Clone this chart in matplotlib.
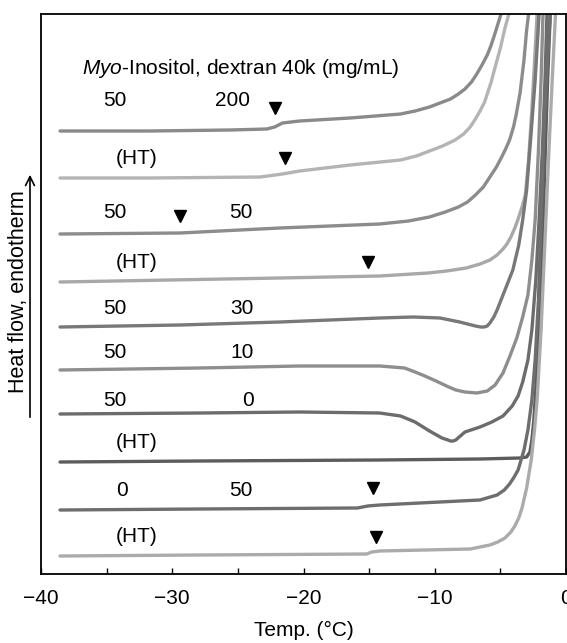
import matplotlib
matplotlib.use('Agg')
import matplotlib.pyplot as plt

plt.rcParams['font.family'] = ['Liberation Sans', 'DejaVu Sans']
plt.rcParams['mathtext.fontset'] = 'custom'
plt.rcParams['mathtext.rm'] = 'Liberation Sans'
plt.rcParams['mathtext.it'] = 'Liberation Sans:italic'

## DSC traces (temperature in degC, heat flow in arbitrary units, already offset)

# 50 / 200
t_1 = [-38.55, -31.7, -25.6, -22.8, -22.2, -21.6, -20.3, -16.45, -12.6, -11.5, -10.4, -9.6, -8.8, -8.2, -7.7, -7.2, -6.8, -6.4, -6.0, -5.7, -5.4, -4.95, -4.7]
y_1 = [443, 443, 444, 445, 447, 451, 453, 456, 460, 463, 467, 471, 475, 480, 485, 492, 500, 509, 519, 529, 541, 560, 580]

# (HT)
t_2 = [-38.55, -31.7, -23.3, -21.6, -20.3, -16.45, -12.6, -11.4, -10.4, -9.4, -8.45, -7.8, -7.3, -6.9, -6.55, -6.2, -5.95, -5.7, -5.5, -5.0, -4.65, -4.35, -4.2]
y_2 = [396, 396, 397, 400, 403, 409, 414, 418, 423, 428, 434, 440, 447, 455, 463, 472, 482, 492, 502, 526, 546, 560, 580]

# 50 / 50
t_3 = [-38.55, -29.4, -21.8, -14.2, -12.0, -10.4, -9.2, -8.2, -7.5, -6.9, -6.3, -5.8, -5.3, -4.9, -4.6, -4.3, -4.0, -3.8, -3.5, -3.2, -3.0, -2.85, -2.75]
y_3 = [340, 341, 346, 350, 353, 357, 362, 367, 372, 379, 387, 397, 407, 417, 425, 434, 447, 459, 481, 514, 544, 560, 580]

# (HT)
t_4 = [-38.55, -21.8, -14.2, -10.5, -9.1, -7.6, -6.55, -5.8, -5.25, -4.8, -4.5, -4.2, -3.9, -3.7, -3.5, -3.3, -3.1, -2.85, -2.6, -2.35, -2.2, -2.1]
y_4 = [292, 296, 298, 301, 303, 306, 310, 314, 319, 325, 330, 337, 346, 353, 361, 369, 379, 414, 464, 524, 560, 580]

# 50 / 30
t_5 = [-38.55, -29.4, -21.8, -14.2, -11.65, -9.6, -8.1, -6.9, -6.5, -6.25, -6.0, -5.8, -5.5, -5.25, -4.65, -4.05, -3.6, -3.3, -3.0, -2.7, -2.35, -2.05, -1.95]
y_5 = [247, 249, 252, 256, 257, 256, 252, 248, 247, 247, 248, 251, 257, 264, 284, 304, 329, 354, 384, 434, 494, 560, 580]

# 50 / 10
t_6 = [-38.55, -27.9, -20.3, -14.2, -12.3, -11.5, -10.75, -9.9, -9.1, -8.4, -7.7, -6.8, -6.0, -5.4, -4.8, -4.3, -3.75, -3.3, -2.9, -2.6, -2.35, -2.1, -1.9, -1.75, -1.65]
y_6 = [204, 206, 208, 208, 206, 202, 198, 193, 188, 184, 182, 181, 183, 189, 201, 217, 236, 257, 279, 314, 354, 424, 494, 560, 580]

# 50 / 0
t_7 = [-38.55, -27.9, -20.3, -14.2, -12.6, -11.5, -10.4, -9.45, -9.0, -8.8, -8.6, -8.4, -7.7, -6.55, -5.65, -4.8, -4.1, -3.65, -3.3, -2.9, -2.6, -2.3, -2.05, -1.8, -1.6, -1.45, -1.35]
y_7 = [160, 161, 162, 161, 158, 152, 143, 136, 134, 133, 133, 134, 142, 147, 152, 158, 168, 178, 192, 214, 244, 294, 354, 424, 494, 560, 580]

# (HT)
t_8 = [-38.55, -27.9, -14.2, -6.55, -3.5, -3.0, -2.75, -2.6, -2.45, -2.3, -2.05, -1.8, -1.6, -1.4, -1.2, -1.1]
y_8 = [112, 113, 114, 115, 116, 117, 122, 134, 154, 184, 244, 324, 414, 494, 560, 580]

# 0 / 50
t_9 = [-38.55, -27.9, -15.9, -15.1, -14.2, -6.55, -5.25, -4.7, -4.3, -3.95, -3.65, -3.2, -2.9, -2.6, -2.35, -2.1, -1.9, -1.7, -1.45, -1.2, -1.1]
y_9 = [64, 65, 66, 68, 69, 74, 79, 84, 90, 97, 104, 124, 144, 174, 214, 274, 354, 434, 504, 560, 580]

# (HT)
t_10 = [-38.55, -27.9, -15.2, -14.8, -14.2, -7.3, -5.8, -5.2, -4.65, -4.2, -3.9, -3.6, -3.35, -3.0, -2.65, -2.4, -2.2, -1.9, -1.6, -1.3, -1.05, -0.8, -0.7]
y_10 = [18, 19, 20, 22, 23, 25, 29, 32, 36, 42, 48, 56, 66, 86, 114, 144, 174, 244, 334, 424, 494, 560, 580]

traces = [(t_1, y_1), (t_2, y_2), (t_3, y_3), (t_4, y_4), (t_5, y_5),
          (t_6, y_6), (t_7, y_7), (t_8, y_8), (t_9, y_9), (t_10, y_10)]
colours = ['#8a8a8a', '#b4b4b4', '#8c8c8c', '#a8a8a8', '#787878',
           '#8e8e8e', '#6c6c6c', '#5c5c5c', '#6e6e6e', '#ababab']

# sample labels: inositol column, dextran column, label height
left_lab = ['50', '(HT)', '50', '(HT)', '50', '50', '50', '(HT)', '0', '(HT)']
left_t = [-34.4, -32.7, -34.4, -32.7, -34.4, -34.4, -34.4, -32.7, -33.8, -32.7]
right_lab = ['200', '', '50', '', '30', '10', '0', '', '50', '']
right_t = [-25.4, 0, -24.8, 0, -24.7, -24.7, -24.2, 0, -24.8, 0]
lab_y = [474, 416, 362, 311, 266, 221, 174, 131, 84, 37]

# glass transition markers
tg_t = [-22.2, -21.4, -29.4, -15.1, -14.7, -14.5]
tg_y = [466, 416, 358, 312, 86, 37]

fig = plt.figure(figsize=(5.67, 6.43), dpi=100)
ax = fig.add_axes([41/567, 69/643, 525/567, 560/643])

for (t, y), c in zip(traces, colours):
    ax.plot(t, y, color=c, lw=2.4, solid_joinstyle='round', solid_capstyle='round')

ax.plot(tg_t, tg_y, 'v', color='black', markersize=8, ls='none')

for i in range(len(lab_y)):
    ax.text(left_t[i], lab_y[i], left_lab[i], ha='center', va='center', fontsize=15)
    if right_lab[i]:
        ax.text(right_t[i], lab_y[i], right_lab[i], ha='center', va='center', fontsize=15)

ax.text(-36.9, 506, r'$\mathit{Myo}$-Inositol, dextran 40k (mg/mL)', ha='left', va='center', fontsize=15)

ax.set_xlim(-40, 0)
ax.set_ylim(0, 560)
ax.set_xticks([-40, -30, -20, -10, 0])
ax.set_xticklabels(['\u221240', '\u221230', '\u221220', '\u221210', '0'])
ax.set_xticks([-35, -25, -15, -5], minor=True)
ax.tick_params(axis='x', which='both', direction='in', length=4.5, width=1, labelsize=15, pad=11)
ax.set_yticks([])
for s in ax.spines.values():
    s.set_linewidth(1.3)
    s.set_color('black')

ax.set_xlabel('Temp. (\u00b0C)', fontsize=15, labelpad=9)

# y label with arrow outside the axes
fig.text(19/567, 1 - 292/643, 'Heat flow, endotherm', rotation=90, ha='center', va='center', fontsize=15.5)
fig.add_artist(matplotlib.patches.FancyArrowPatch((30/567, 1 - 420/643), (30/567, 1 - 172/643),
               transform=fig.transFigure, arrowstyle='->', mutation_scale=16, lw=1.2, color='black'))

fig.savefig('out.png', dpi=100)
